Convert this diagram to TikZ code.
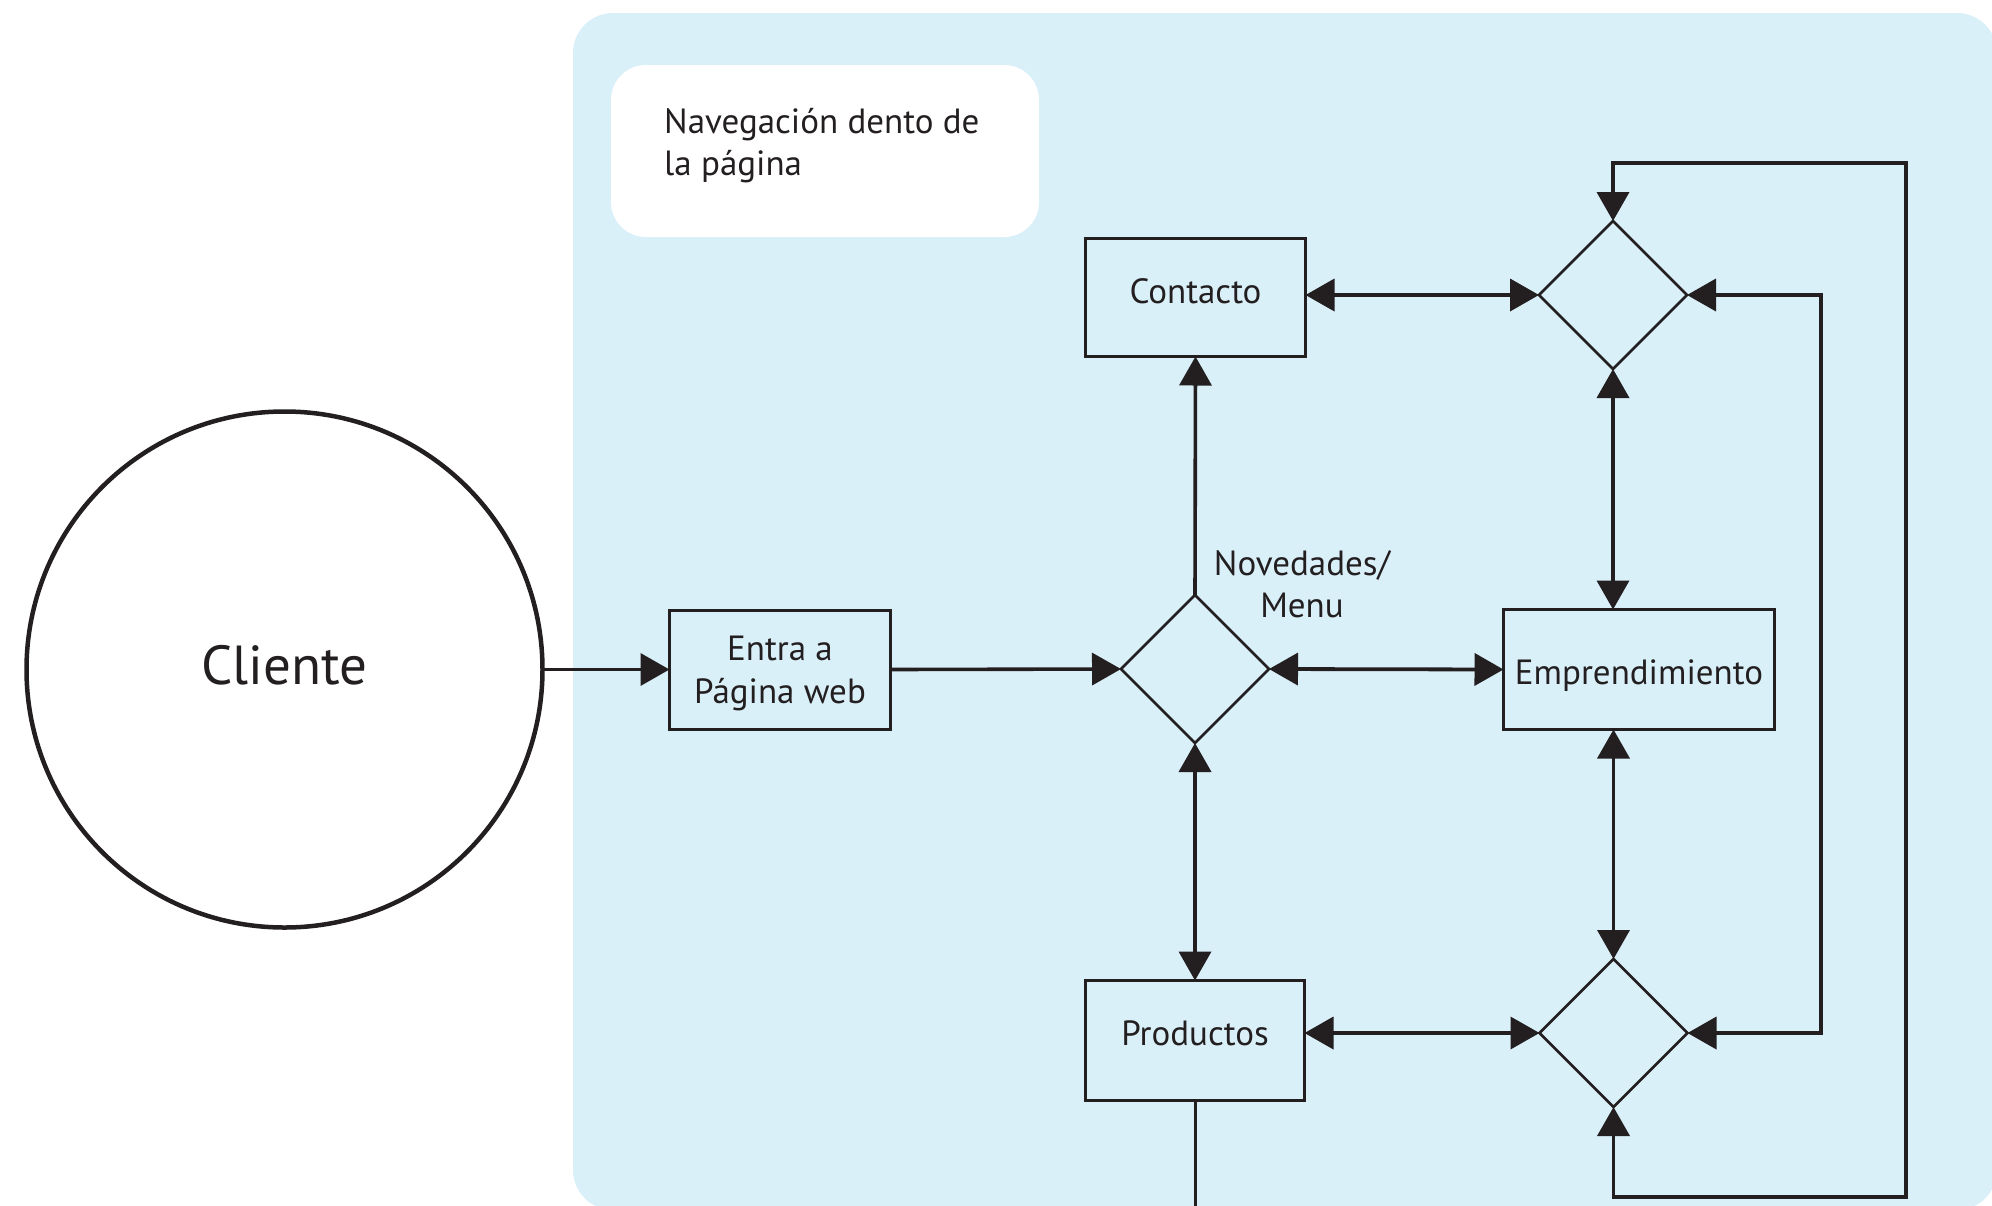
\documentclass[tikz,border=0pt]{standalone}
\usepackage{fontspec}
\setmainfont{PT Sans}
\usetikzlibrary{shapes.geometric,arrows.meta}
\definecolor{ink}{HTML}{231F20}
\definecolor{panel}{RGB}{217,240,249}
\begin{document}
\begin{tikzpicture}[x=1pt,y=-1pt,
  box/.style={draw=ink, line width=3pt, rectangle, inner sep=0pt, outer sep=0pt},
  boxtext/.style={font=\fontsize{35}{43}\selectfont, text=ink, align=center, inner sep=0pt},
  dia/.style={draw=ink, line width=2.6pt, diamond, inner sep=0pt, outer sep=0pt,
    minimum width=148pt, minimum height=148pt},
  conn/.style={draw=ink, line width=3.6pt, -{Triangle[length=29pt,width=32pt]}},
  dconn/.style={draw=ink, line width=3.8pt,
    {Triangle[length=29pt,width=32pt]}-{Triangle[length=29pt,width=32pt]}},
  lbl/.style={font=\fontsize{35}{42}\selectfont, text=ink, align=center, inner sep=0pt}]
\useasboundingbox (0,0) rectangle (1992,1205);
% background panel and title card
\fill[panel, rounded corners=40pt] (573,13) rectangle (1997,1210);
\fill[white, rounded corners=35pt] (611,65) rectangle (1039,237);
\node[lbl, align=left, anchor=north west] (title) at (664,108) {Navegación dento de\\la página};
% nodes
\node[circle, draw=ink, line width=4.5pt, minimum size=516pt, inner sep=0pt, outer sep=0pt,
  label={[text=ink, font=\fontsize{55}{66}\selectfont, inner sep=0pt, yshift=4pt]center:Cliente}]
  (cliente) at (284.5,669.5) {};
\node[box, minimum width=221pt, minimum height=119pt,
  label={[boxtext, yshift=-4pt]center:{Entra a\\Página web}}] (entra) at (780,669.5) {};
\node[box, minimum width=220pt, minimum height=118pt,
  label={[boxtext, yshift=6pt]center:Contacto}] (contacto) at (1195.5,297.5) {};
\node[box, minimum width=271pt, minimum height=120pt,
  label={[boxtext, yshift=-6pt]center:Emprendimiento}] (emp) at (1639,669.5) {};
\node[box, minimum width=219pt, minimum height=120pt,
  label={[boxtext, yshift=7.5pt]center:Productos}] (prod) at (1195,1040.5) {};
\node[dia] (menu) at (1195,669) {};
\node[dia] (tr) at (1613,295) {};
\node[dia] (bd) at (1613.5,1033) {};
\node[lbl] (menulbl) at (1302,584) {Novedades/\\Menu};
% helper coordinates
\coordinate (innerB) at (1821,1033);
\coordinate (loopBR) at (1906,1197);
\coordinate (loopTR) at (1906,163);
\coordinate (pend) at (1195,1215);
% connectors
\draw[conn] (cliente.east) -- (entra.west);
\draw[conn] (entra.east) -- (menu.west);
\draw[conn] (menu.north) -- (contacto.south);
\draw[dconn] (menu.east) -- (emp.west);
\draw[dconn] (menu.south) -- (prod.north);
\draw[dconn] (tr.west -| contacto.east) -- (tr.west);
\draw[dconn] (bd.west -| prod.east) -- (bd.west);
\draw[dconn] (tr.south) -- (tr.south |- emp.north);
\draw[dconn] (bd.north |- emp.south) -- (bd.north);
\draw[dconn] (tr.east) -| (innerB) -- (bd.east);
\draw[dconn] (bd.south) |- (loopBR) -- (loopTR) -| (tr.north);
\draw[ink, line width=3pt] (prod.south) -- (prod.south |- pend);
\end{tikzpicture}
\end{document}
